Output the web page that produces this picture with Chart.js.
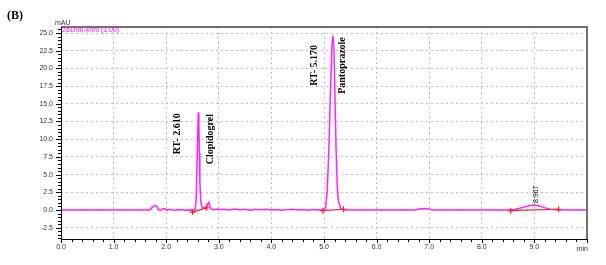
<!DOCTYPE html>
<html><head><meta charset="utf-8">
<script src="https://cdn.jsdelivr.net/npm/chart.js@4/dist/chart.umd.min.js"></script>
<style>html,body{margin:0;padding:0;background:#fff}#wrap{width:606px;height:265px;position:relative}</style>
</head><body><div id="wrap"><canvas id="c" width="606" height="265"></canvas></div>
<script>
// Chromatogram trace (time in min, signal in mAU)
const timeMin = [0,1.68,1.70,1.72,1.76,1.80,1.83,1.86,1.89,1.93,1.97,2.01,2.06,2.12,2.18,2.25,2.32,2.40,2.46,2.51,2.55,2.57,2.59,2.61,2.62,2.63,2.64,2.655,2.67,2.70,2.73,2.76,2.79,2.81,2.83,2.86,2.90,2.95,3.0,3.1,3.2,3.3,3.4,3.5,3.6,3.7,3.8,3.9,4.0,4.1,4.2,4.3,4.4,4.5,4.6,4.7,4.8,4.9,4.98,5.03,5.06,5.09,5.12,5.15,5.17,5.19,5.21,5.23,5.25,5.27,5.30,5.34,5.40,6.0,6.75,6.8,6.9,7.0,7.05,8.5,8.6,8.7,8.8,8.9,9.0,9.1,9.2,9.3,9.4,9.5,10.0];
const signal = [0,0,0.05,0.3,0.55,0.65,0.4,0.05,-0.1,0.15,0.2,-0.05,0.1,0.0,-0.05,0.05,0.0,-0.05,0.0,-0.05,0.1,1.5,8.0,13.8,12.5,8.0,4.0,1.5,0.6,0.3,0.25,0.2,0.9,1.1,0.5,0.1,0.05,0.15,0.05,0.1,0.0,0.15,0.05,0.1,-0.05,0.1,0.05,0.1,0.0,0.05,-0.05,0.05,0.1,0.0,0.05,-0.05,0.05,0.0,-0.05,0.3,2.5,8,16,23,24.6,22.5,15.5,8.5,3.8,1.5,0.5,0.15,0.0,0.0,0.0,0.15,0.2,0.15,0.0,0.0,0.05,0.2,0.4,0.6,0.7,0.55,0.3,0.12,0.03,0,0];
// Integration baselines (null separates segments)
const baseTime = [2.50,2.76,null,4.98,5.37,null,8.55,9.46];
const baseVal  = [-0.3,0.3,null,-0.1,0.1,null,-0.1,0.1];
// Peak annotations
const peakTimes = [2.610, 5.170, 8.967];
const peakHeights = [13.8, 24.6, 0.7];
const rtLabels = ["RT- 2.610", "RT- 5.170", "8.967"];
const compoundNames = ["Clopidogrel", "Pantoprazole", ""];
const yTicks = [-2.5,0,2.5,5,7.5,10,12.5,15,17.5,20,22.5,25];
const xTicks = [0,1,2,3,4,5,6,7,8,9];

const traceData = timeMin.map((t,i)=>({x:t,y:signal[i]}));
const baseData = baseTime.map((t,i)=>t===null?{x:null,y:null}:{x:t,y:baseVal[i]});

const decor = {
  id:'decor',
  afterDraw(chart){
    const ctx = chart.ctx, a = chart.chartArea, xs = chart.scales.x, ys = chart.scales.y;
    ctx.save();
    ctx.strokeStyle='#707070'; ctx.lineWidth=2;
    ctx.beginPath(); ctx.moveTo(a.left,a.top); ctx.lineTo(a.right,a.top); ctx.lineTo(a.right,a.bottom); ctx.stroke();
    ctx.strokeStyle='#000'; ctx.lineWidth=1;
    ctx.beginPath(); ctx.moveTo(a.left+0.5,a.top); ctx.lineTo(a.left+0.5,a.bottom+0.5); ctx.lineTo(a.right,a.bottom+0.5); ctx.stroke();
    ctx.beginPath();
    for(let v=-4;v<=25.5;v+=0.5){
      const y=Math.round(ys.getPixelForValue(v))+0.5;
      const major=Math.abs(v/2.5-Math.round(v/2.5))<1e-6;
      ctx.moveTo(a.left,y); ctx.lineTo(a.left-(major?5:3),y);
    }
    for(let v=0;v<=10.001;v+=0.2){
      const x=Math.round(xs.getPixelForValue(v))+0.5;
      const major=Math.abs(v-Math.round(v))<1e-6;
      ctx.moveTo(x,a.bottom); ctx.lineTo(x,a.bottom+(major?4:3));
    }
    ctx.stroke();
    ctx.fillStyle='#000';
    ctx.font='bold 12px "Liberation Serif"'; ctx.textBaseline='middle'; ctx.textAlign='left';
    ctx.fillText('(B)',7,16);
    ctx.font='7px "Liberation Sans"'; ctx.fillStyle='#333';
    ctx.fillText('mAU',55,23);
    ctx.textAlign='right'; ctx.fillText('min',a.right+1,xs.bottom-16);
    ctx.fillStyle='#ff00ff'; ctx.textAlign='left'; ctx.font='7px "Liberation Sans"';
    ctx.fillText('251nm,4nm (1.00)',62,30);
    const rot=(txt,x,yBottom,font)=>{ctx.save();ctx.translate(x,yBottom);ctx.rotate(-Math.PI/2);ctx.font=font;ctx.textAlign='left';ctx.textBaseline='middle';ctx.fillStyle='#000';ctx.fillText(txt,0,0);ctx.restore();};
    const bf='bold 10px "Liberation Serif"';
    let px=xs.getPixelForValue(peakTimes[0]);
    rot(rtLabels[0],px-21,ys.getPixelForValue(peakHeights[0])+42,bf);
    rot(compoundNames[0],px+12,ys.getPixelForValue(peakHeights[0])+52,bf);
    px=xs.getPixelForValue(peakTimes[1]);
    rot(rtLabels[1],px-19,ys.getPixelForValue(peakHeights[1])+50,bf);
    rot(compoundNames[1],px+9,ys.getPixelForValue(peakHeights[1])+58,bf);
    px=xs.getPixelForValue(peakTimes[2]);
    rot(rtLabels[2],px+3,ys.getPixelForValue(peakHeights[2])-2,'7px "Liberation Sans"');
    ctx.restore();
  }
};

new Chart(document.getElementById('c'),{
  type:'line',
  data:{datasets:[
    {data:traceData,borderColor:'#ff22ff',borderWidth:1.5,pointRadius:0,tension:0,order:2},
    {data:baseData,borderColor:'#ff2020',borderWidth:1.2,pointRadius:3,pointStyle:'cross',pointBorderColor:'#ff2020',pointBorderWidth:1.2,spanGaps:false,tension:0,order:1}
  ]},
  options:{
    responsive:false,animation:false,
    layout:{padding:{left:0,top:27,right:19,bottom:0}},
    plugins:{legend:{display:false},tooltip:{enabled:false}},
    scales:{
      x:{type:'linear',min:0,max:10,
        afterBuildTicks:s=>{s.ticks=xTicks.concat([10]).map(v=>({value:v}));},
        afterFit:s=>{s.height=26;},
        border:{display:false,dash:[2,3]},
        grid:{color:'#bdbdbd',lineWidth:1,drawTicks:false},
        ticks:{padding:4,font:{size:7,family:'Liberation Sans'},color:'#333',maxRotation:0,autoSkip:false,
          callback:v=>v>=10?'':v.toFixed(1)}
      },
      y:{type:'linear',min:-4.1,max:25.85,
        afterBuildTicks:s=>{s.ticks=yTicks.map(v=>({value:v}));},
        afterFit:s=>{s.width=61;},
        border:{display:false,dash:[2,3]},
        grid:{color:'#bdbdbd',lineWidth:1,drawTicks:false},
        ticks:{padding:8,font:{size:7,family:'Liberation Sans'},color:'#333',autoSkip:false,
          callback:v=>v.toFixed(1)}
      }
    }
  },
  plugins:[decor]
});
</script></body></html>
